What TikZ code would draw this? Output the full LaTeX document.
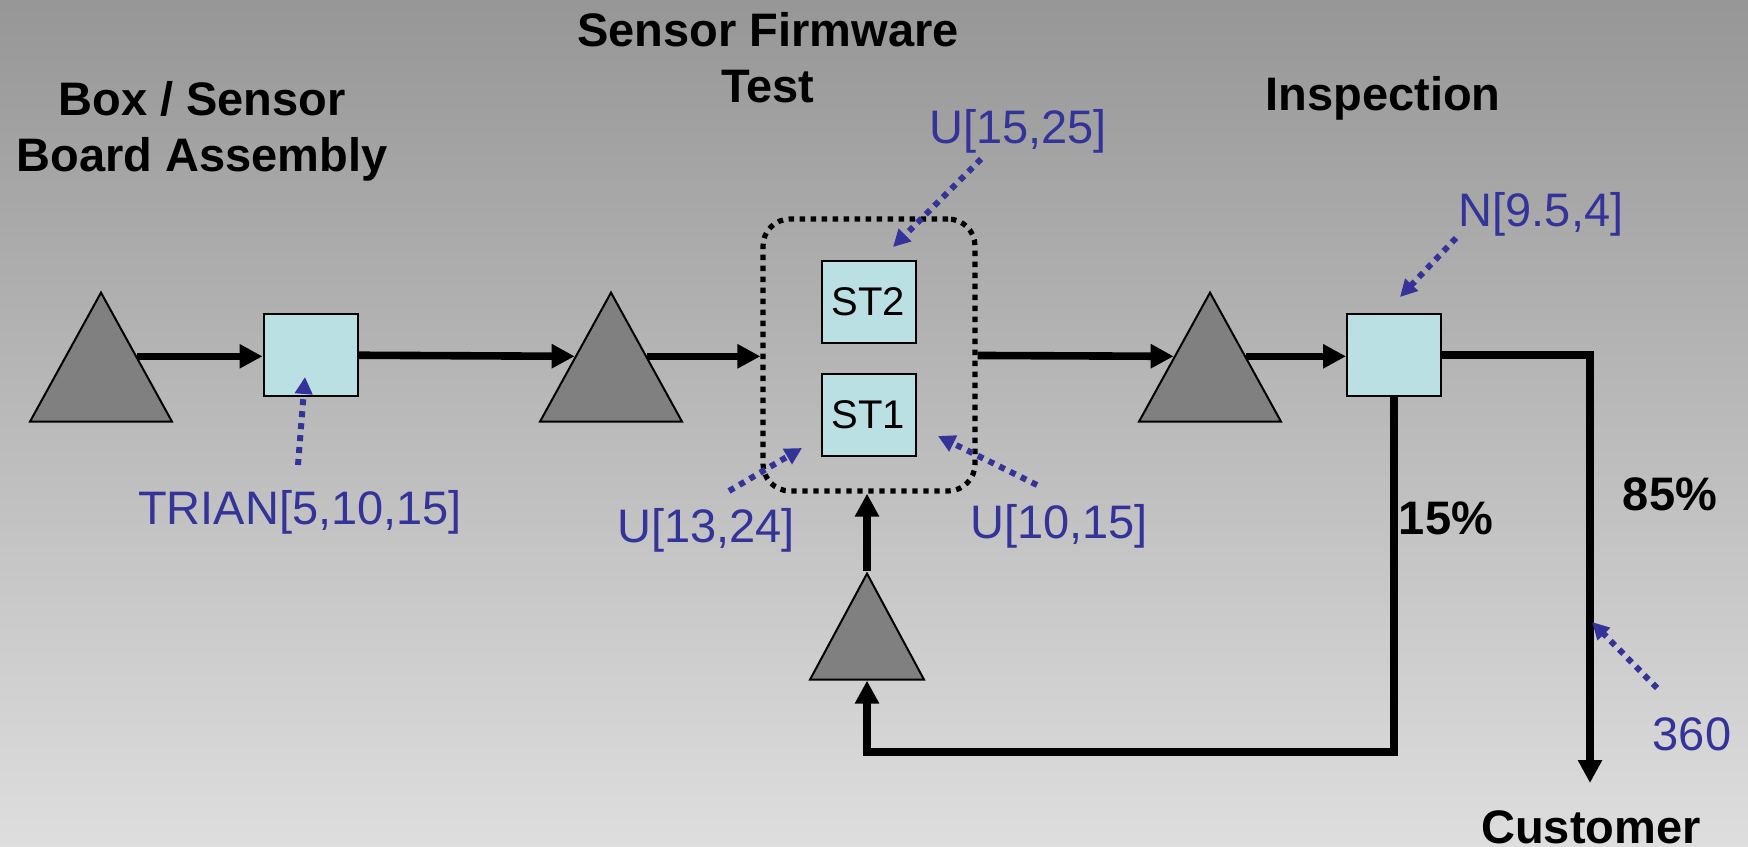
\documentclass[tikz,border=0pt]{standalone}
\usepackage{fontspec}
\setmainfont{Liberation Sans}
\usetikzlibrary{arrows.meta,positioning,shapes.geometric}
\definecolor{lblblue}{RGB}{51,51,153}
\definecolor{boxfill}{RGB}{186,224,228}
\definecolor{trifill}{RGB}{128,128,128}
\begin{document}
\begin{tikzpicture}[x=0.5pt,y=-0.5pt, line join=miter, >=Triangle]
			\tikzset{station/.style={draw, line width=1pt, fill=boxfill, minimum width=47pt, minimum height=41pt, inner sep=0pt, font=\fontsize{20}{24}\selectfont},
				buffer/.style={draw, line width=1pt, fill=trifill, isosceles triangle, isosceles triangle stretches, shape border rotate=90, inner sep=0pt, anchor=apex},
				flow/.style={line width=3.8pt, -{Triangle[length=11.5pt,width=11.5pt]}},
				note/.style={draw=lblblue, line width=3pt, dash pattern=on 3pt off 3pt, -{Triangle[length=8.5pt,width=8.5pt]}},
				head/.style={font=\bfseries\fontsize{23.5}{28}\selectfont, align=center, anchor=base},
				dist/.style={text=lblblue, font=\fontsize{23.5}{28}\selectfont, anchor=base}}
			\shade[top color=black!41, bottom color=black!13] (0,0) rectangle (1748,846);
			\useasboundingbox (0,0) rectangle (1748,846);
			\node[buffer, minimum width=71pt, minimum height=64.5pt] (t1) at (101,290) {};
			\node[station] (b1) at (310.5,355) {};
			\node[buffer, minimum width=71pt, minimum height=64.5pt] (t2) at (611,290) {};
			\node[draw, rounded corners=13.5pt, line width=2.6pt, dash pattern=on 2.7pt off 2.8pt, minimum width=106pt, minimum height=136pt] (fw) at (869,355) {};
			\node[station] (st2) at (868.5,302) {ST2};
			\node[station] (st1) at (868.5,415) {ST1};
			\node[buffer, minimum width=71pt, minimum height=64.5pt] (t3) at (1210,290) {};
			\node[station] (b3) at (1394,355) {};
			\node[buffer, minimum width=57pt, minimum height=53pt] (t4) at (867,571) {};
			\coordinate (turn) at (1590,355);
			\coordinate (out) at (1590,783);
			\coordinate (loop) at (1394,752);
			\draw[flow] (t1.right side) -- (b1.west |- t1.right side);
			\draw[flow] (b1) -- (t2.left side);
			\draw[flow] (t2.right side) -- (fw.west |- t2.right side);
			\draw[flow] (fw) -- (t3.left side);
			\draw[flow] (t3.right side) -- (b3.west |- t3.right side);
			\draw[flow] (b3) -- (turn) -- (out);
			\draw[flow] (b3) -- (loop) -| (t4.lower side);
			\draw[flow] (t4.apex) -- (t4.apex |- fw.south);
			\node[head] (h1) at (202,171) {Box / Sensor\\Board Assembly};
			\node[head] (h2) at (768,102) {Sensor Firmware\\Test};
			\node[head] (h3) at (1383,110) {Inspection};
			\node[head] (cust) at (1591,843) {Customer};
			\node[head] (p15) at (1446,534) {15\%};
			\node[head] (p85) at (1670,510) {85\%};
			\node[dist] (d1) at (300,524) {TRIAN[5,10,15]};
			\node[dist] (d2) at (1018,143) {U[15,25]};
			\node[dist] (d3) at (706,542) {U[13,24]};
			\node[dist] (d4) at (1059,538) {U[10,15]};
			\node[dist] (d5) at (1541,226) {N[9.5,4]};
			\node[dist] (d6) at (1692,750) {360};
			\draw[note] (298,465) -- (305,377);
			\draw[note] (981,159) -- (893,247);
			\draw[note] (729,491) -- (802,448);
			\draw[note] (1037,485) -- (938,436);
			\draw[note] (1456,238) -- (1400,297);
			\draw[note] (1657,688) -- (1592,622);
			
		\end{tikzpicture}
\end{document}
